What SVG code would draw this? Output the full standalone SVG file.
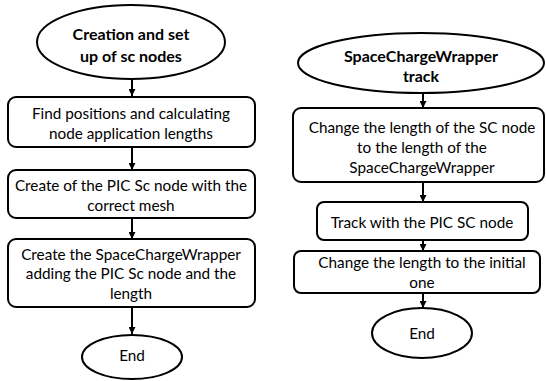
<svg xmlns="http://www.w3.org/2000/svg" width="546" height="381" viewBox="0 0 546 381">
<defs>
<style>
.shape{fill:#fff;stroke:#000;stroke-width:2}
.t{font-family:Lato,"Liberation Sans",sans-serif;font-size:15.3px;fill:#000;text-anchor:middle;dominant-baseline:central}
.b{font-weight:bold;font-size:16px}
.c{stroke:#000;stroke-width:2;fill:none;marker-end:url(#ah)}
</style>
<marker id="ah" viewBox="0 0 10 10" refX="10" refY="5" markerWidth="3.5" markerHeight="3.5" orient="auto" markerUnits="strokeWidth">
<path d="M0,0 L10,5 L0,10 z" fill="#000"/>
</marker>
</defs>
<rect width="546" height="381" fill="#fff"/>
<g id="connectors">
<line class="c" x1="132" y1="80" x2="132" y2="96"/>
<line class="c" x1="132" y1="147" x2="132" y2="170"/>
<line class="c" x1="132" y1="218" x2="132" y2="239"/>
<line class="c" x1="132" y1="307" x2="132" y2="334"/>
<line class="c" x1="423" y1="94" x2="423" y2="108"/>
<line class="c" x1="423" y1="182" x2="423" y2="202"/>
<line class="c" x1="423" y1="240" x2="423" y2="251"/>
<line class="c" x1="423" y1="293" x2="423" y2="308"/>
</g>
<g id="start1">
<ellipse class="shape" cx="131" cy="42" rx="94" ry="37"/>
<text class="t b" x="131" y="33">Creation and set</text>
<text class="t b" x="131" y="55">up of sc nodes</text>
</g>
<g id="find">
<rect class="shape" x="8" y="97" width="247" height="50" rx="8"/>
<text class="t" x="131" y="113">Find positions and calculating</text>
<text class="t" x="131" y="133">node application lengths</text>
</g>
<g id="createpic">
<rect class="shape" x="8" y="170" width="247" height="48" rx="8"/>
<text class="t" x="131" y="185">Create of the PIC Sc node with the</text>
<text class="t" x="131" y="205">correct mesh</text>
</g>
<g id="createwrapper">
<rect class="shape" x="8" y="239" width="247" height="68" rx="8"/>
<text class="t" x="131" y="254">Create the SpaceChargeWrapper</text>
<text class="t" x="131" y="273">adding the PIC Sc node and the</text>
<text class="t" x="131" y="293">length</text>
</g>
<g id="end1">
<ellipse class="shape" cx="132" cy="357" rx="50" ry="22"/>
<text class="t" x="132" y="355">End</text>
</g>
<g id="start2">
<ellipse class="shape" cx="421" cy="63" rx="123" ry="30"/>
<text class="t b" x="421" y="55">SpaceChargeWrapper</text>
<text class="t b" x="421" y="75">track</text>
</g>
<g id="change">
<rect class="shape" x="293" y="108" width="251" height="74" rx="8"/>
<text class="t" x="422" y="127">Change the length of the SC node</text>
<text class="t" x="422" y="147">to the length of the</text>
<text class="t" x="422" y="167">SpaceChargeWrapper</text>
</g>
<g id="track">
<rect class="shape" x="317" y="202" width="211" height="38" rx="7"/>
<text class="t" x="422" y="222">Track with the PIC SC node</text>
</g>
<g id="restore">
<rect class="shape" x="294" y="251" width="246" height="42" rx="7"/>
<text class="t" x="422" y="262">Change the length to the initial</text>
<text class="t" x="422" y="282">one</text>
</g>
<g id="end2">
<ellipse class="shape" cx="422" cy="333" rx="50" ry="25"/>
<text class="t" x="422" y="333">End</text>
</g>
</svg>
